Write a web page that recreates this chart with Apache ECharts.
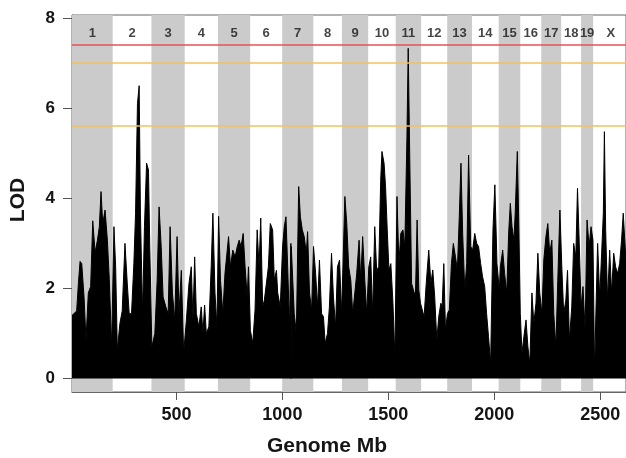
<!DOCTYPE html>
<html>
<head>
<meta charset="utf-8">
<script src="https://cdn.jsdelivr.net/npm/echarts@6/dist/echarts.min.js"></script>
<style>
  html, body { margin: 0; padding: 0; background: #fff; }
  #chart { width: 626px; height: 458px; }
</style>
</head>
<body>
<div id="chart"></div>
<script>
// chromosome names and their start positions (Mb) along the genome
var chromNames = ['1','2','3','4','5','6','7','8','9','10','11','12','13','14','15','16','17','18','19','X'];
var chromStart = [7, 199, 382, 539, 696, 848, 999, 1146, 1281, 1405, 1535, 1655, 1778, 1895, 2021, 2123, 2222, 2316, 2410, 2467];
var genomeEnd = 2633;

// LOD profile: position (Mb) and LOD score
var lodMb = [
  7, 14, 29, 37, 45, 53, 64, 73, 84, 95, 105, 116, 127, 136, 144, 152, 163, 174, 183, 194,
  205, 213, 221, 233, 244, 257, 268, 277, 288, 299, 307, 316, 324, 330, 340, 349, 359, 368, 374, 384,
  398, 409, 418, 428, 437, 450, 461, 470, 481, 492, 503, 512, 523, 534, 547, 559, 570, 578, 586, 594,
  606, 617, 625, 633, 641, 653, 664, 672, 682, 691, 699, 708, 719, 729,
  746, 755, 766, 777, 787, 796, 805, 815, 824, 834, 840, 849, 860, 871, 881, 890, 898, 907, 915, 923,
  934, 943, 954, 962, 972, 978, 990, 1001, 1009, 1017, 1025, 1034, 1040, 1041, 1042, 1048, 1056, 1066, 1077, 1085,
  1094, 1103, 1113, 1119, 1128, 1138, 1147, 1157, 1166, 1175, 1185, 1194, 1202, 1213, 1222, 1232, 1241, 1251, 1260, 1270,
  1279, 1285, 1295, 1304, 1313, 1323, 1332, 1342, 1351, 1362, 1370, 1379, 1389, 1398, 1408, 1417, 1426, 1436, 1445, 1455,
  1464, 1470, 1480, 1487, 1495, 1503, 1512, 1522, 1531, 1541, 1550, 1559, 1569, 1578, 1588, 1594, 1600, 1610, 1619, 1628,
  1636, 1644, 1652, 1660, 1669, 1679, 1691, 1701, 1710, 1719, 1729, 1738, 1748, 1754, 1762, 1770, 1779, 1788, 1798, 1807,
  1817, 1826, 1835, 1843, 1851, 1861, 1870, 1879, 1889, 1898, 1908, 1917, 1926, 1936, 1945, 1955, 1964, 1973, 1983, 1994,
  2003, 2013, 2024, 2029, 2040, 2049, 2059, 2068, 2076, 2084, 2093, 2099, 2109, 2115, 2123, 2131, 2140, 2150, 2159, 2168,
  2178, 2187, 2197, 2206, 2215, 2225, 2234, 2244, 2253, 2262, 2272, 2281, 2291, 2300, 2310, 2319, 2328, 2338, 2346, 2355,
  2366, 2375, 2385, 2393, 2400, 2410, 2419, 2429, 2438, 2448, 2457, 2466, 2474, 2479, 2488, 2498, 2507, 2515, 2520, 2526,
  2535, 2545, 2554, 2564, 2573, 2582, 2592, 2601, 2609, 2622
];
var lodVal = [
  1.4, 1.4, 1.5, 2.1, 2.6, 2.55, 1.8, 0.85, 1.9, 2.04, 3.5, 2.8, 3.07, 3.37, 4.15, 3.44, 3.74, 3.07, 2.2, 0.7,
  3.37, 2.48, 0.63, 1.22, 1.5, 3.0, 2.1, 1.44, 1.44, 2.55, 3.67, 6.1, 6.5, 3.67, 1.44, 3.37, 4.78, 4.63, 2.93, 0.7,
  1.0, 2.18, 3.81, 2.93, 1.81, 1.59, 1.44, 3.37, 1.9, 1.3, 3.15, 1.44, 2.4, 0.56, 1.3, 2.1, 2.48, 1.3, 2.7, 1.44,
  1.15, 1.59, 1.0, 1.63, 1.0, 1.15, 2.48, 3.67, 1.9, 1.15, 3.6, 2.18, 1.44, 2.33,
  3.15, 2.48, 2.85, 2.7, 2.93, 3.07, 2.93, 3.22, 2.48, 1.81, 2.48, 1.07, 0.78, 1.52, 3.3, 2.48, 3.56, 1.59, 1.74, 1.74,
  2.48, 3.44, 3.3, 2.18, 2.4, 1.9, 1.59, 2.93, 3.37, 3.59, 2.48, 1.15, 3.0, 0.0, 2.93, 2.93, 1.44, 1.0, 4.26, 3.59,
  3.3, 3.15, 2.78, 3.26, 1.9, 1.52, 2.93, 2.33, 1.59, 2.63, 1.44, 1.37, 0.78, 1.0, 1.59, 2.78, 1.81, 1.15, 2.48, 2.63,
  1.44, 2.33, 4.04, 3.44, 2.48, 2.18, 1.44, 1.9, 2.33, 3.07, 2.18, 3.15, 2.18, 1.44, 2.48, 2.7, 1.44, 3.37, 2.4, 2.48,
  4.4, 5.04, 4.78, 4.26, 3.3, 2.41, 2.55, 1.67, 0.48, 4.04, 2.55, 3.22, 3.3, 2.93, 5.37, 7.33, 5.3, 2.11, 1.96, 1.81,
  3.52, 1.96, 1.67, 1.67, 1.37, 2.11, 2.85, 2.11, 2.41, 1.81, 0.85, 1.37, 1.67, 1.59, 2.55, 1.07, 1.44, 1.52, 2.55, 3.0,
  2.7, 2.41, 3.59, 4.78, 3.22, 1.96, 2.55, 4.96, 2.93, 2.85, 3.22, 3.0, 2.93, 2.55, 2.26, 2.04, 1.44, 0.93, 0.33, 3.3,
  4.3, 2.55, 1.96, 2.48, 2.85, 2.33, 1.9, 3.22, 3.89, 3.37, 3.07, 3.67, 5.04, 3.67, 1.44, 0.56, 0.93, 1.3, 0.7, 0.33,
  1.9, 1.22, 1.67, 2.78, 1.9, 1.44, 2.63, 3.15, 3.44, 2.78, 3.07, 1.44, 0.7, 2.18, 3.74, 2.48, 1.44, 1.74, 2.4, 0.85,
  1.59, 3.0, 2.7, 4.22, 3.22, 1.59, 2.04, 1.07, 3.52, 2.93, 3.37, 3.07, 0.1, 1.3, 3.0, 1.81, 2.78, 3.67, 5.48, 3.3,
  1.74, 2.85, 1.9, 2.78, 2.48, 2.33, 2.55, 3.07, 3.67, 2.6
];

// significance thresholds
var thresholds = [7.41, 7.02, 5.62];
var thresholdColors = ['#e8505a', '#f0c060', '#f0c060'];

var xTicks = [500, 1000, 1500, 2000, 2500];
var yTicks = [0, 2, 4, 6, 8];

var FONT = 'Liberation Sans, Arial, Helvetica, sans-serif';

var chart = echarts.init(document.getElementById('chart'), null, { renderer: 'canvas' });

var lodData = lodMb.map(function (x, i) { return [x, lodVal[i]]; });

var bandAreas = [];
var chromLabels = [];
chromNames.forEach(function (name, i) {
  var s = chromStart[i];
  var e = i + 1 < chromStart.length ? chromStart[i + 1] : genomeEnd;
  if (i % 2 === 0 && name !== 'X') {
    bandAreas.push([{ xAxis: s }, { xAxis: e }]);
  }
  chromLabels.push({ name: name, value: [(s + e) / 2, 7.67] });
});

chart.setOption({
  animation: false,
  grid: {
    left: 72, top: 15, right: -2, bottom: 66,
    show: true, borderColor: '#666', borderWidth: 1, backgroundColor: 'transparent'
  },
  xAxis: {
    type: 'value', min: 7, max: 2622,
    axisLine: { show: true, onZero: false, lineStyle: { color: '#666' } },
    axisTick: { show: true, length: 8, customValues: xTicks, lineStyle: { color: '#555' } },
    axisLabel: {
      customValues: xTicks, margin: 14, color: '#151515',
      fontSize: 18, fontWeight: 'bold', fontFamily: FONT,
      formatter: function (v) { return String(v); }
    },
    splitLine: { show: false }
  },
  yAxis: {
    type: 'value', min: -0.3, max: 8.07,
    axisLine: { show: true, onZero: false, lineStyle: { color: '#666' } },
    axisTick: { show: true, length: 9, customValues: yTicks, lineStyle: { color: '#555' } },
    axisLabel: {
      customValues: yTicks, margin: 17, color: '#151515',
      fontSize: 17, fontWeight: 'bold', fontFamily: FONT,
      formatter: function (v) { return String(v); }
    },
    splitLine: { show: false }
  },
  graphic: [
    {
      type: 'text', x: 18, y: 200, rotation: Math.PI / 2,
      style: {
        text: 'LOD', fill: '#151515', font: 'bold 21px ' + FONT,
        textAlign: 'center', textVerticalAlign: 'middle'
      }
    },
    {
      type: 'text', x: 327, y: 446,
      style: {
        text: 'Genome Mb', fill: '#151515', font: 'bold 21px ' + FONT,
        textAlign: 'center', textVerticalAlign: 'middle'
      }
    }
  ],
  series: [
    {
      name: 'bands', type: 'line', data: [], z: 1, silent: true,
      markArea: {
        silent: true,
        itemStyle: { color: '#cbcbcb' },
        label: { show: false },
        data: bandAreas
      }
    },
    {
      name: 'LOD', type: 'line', data: lodData, z: 2,
      symbol: 'none', smooth: false,
      lineStyle: { color: '#000', width: 1 },
      areaStyle: { color: '#000', opacity: 1 }
    },
    {
      name: 'thresholds', type: 'line', data: [], z: 3, silent: true,
      markLine: {
        silent: true, symbol: 'none', label: { show: false },
        data: thresholds.map(function (t, i) {
          return { yAxis: t, lineStyle: { color: thresholdColors[i], width: 1.5, type: 'solid' } };
        })
      }
    },
    {
      name: 'chromosomes', type: 'scatter', data: chromLabels, z: 4, silent: true,
      symbolSize: 1, itemStyle: { color: 'transparent' },
      label: {
        show: true, position: 'inside', formatter: '{b}',
        color: '#151515', fontSize: 13, fontWeight: 'bold', fontFamily: FONT
      }
    }
  ]
});
</script>
</body>
</html>
